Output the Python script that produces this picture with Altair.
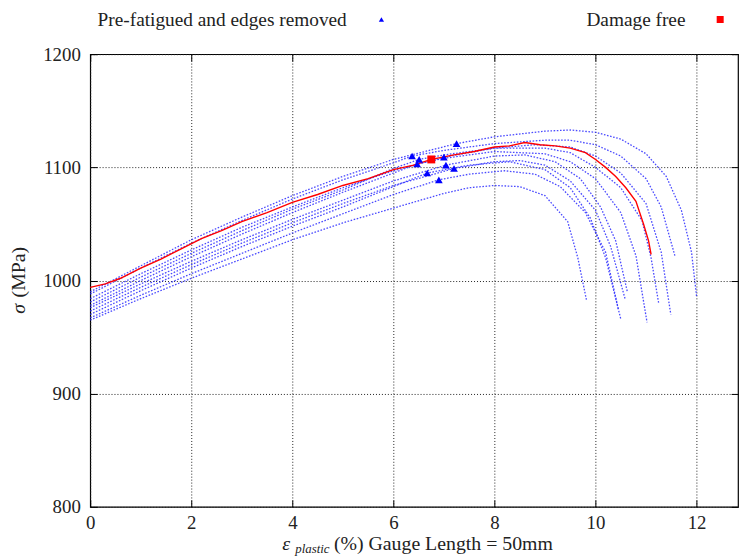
import altair as alt
import pandas as pd

# ---------------- data ----------------
x_ticks = [0, 2, 4, 6, 8, 10, 12]
y_ticks = [800, 900, 1000, 1100, 1200]

legend_labels = ["Pre-fatigued and edges removed", "Damage free"]
x_title_parts = ["ε", "plastic", "(%) Gauge Length = 50mm"]
y_title_parts = ["σ", "(MPa)"]

# Damage free specimen (red solid)
red_e = [0, 0.3, 0.6, 1.0, 1.4, 1.8, 2.2, 2.6, 3.0, 3.5, 4.0, 4.5, 5.0, 5.5, 6.0, 6.4,
         6.75, 7.2, 7.6, 8.0, 8.3, 8.6, 8.9, 9.2, 9.5, 9.8, 10.0, 10.2, 10.4, 10.6,
         10.8, 10.95, 11.05, 11.1]
red_s = [994, 997, 1002, 1011, 1019, 1028, 1037, 1044, 1052, 1060, 1069, 1076, 1084,
         1090, 1098, 1102, 1107, 1111, 1114, 1118, 1119, 1122, 1120, 1119, 1117, 1113,
         1107, 1100, 1092, 1082, 1070, 1050, 1035, 1023]
red_mark_e = [6.75]
red_mark_s = [1107]

# Pre-fatigued specimens (blue dotted)
b1_e = [0, 1, 2, 3, 4, 5, 6, 7.25, 8, 9, 9.5, 10, 10.5, 11, 11.4, 11.7, 11.9, 12.0]
b1_s = [990, 1013, 1036, 1056, 1075, 1092, 1107, 1121, 1127, 1132, 1133, 1131, 1125, 1112, 1092, 1062, 1025, 986]
b2_e = [0, 1, 2, 3, 4, 5, 6, 6.37, 7, 8, 9, 9.5, 10, 10.5, 11, 11.3, 11.57]
b2_s = [988, 1011, 1033, 1053, 1072, 1089, 1104, 1110, 1115, 1121, 1124, 1124, 1120, 1110, 1090, 1065, 1022]
b3_e = [0, 1, 2, 3, 4, 5, 6, 7, 8, 8.8, 9.5, 10, 10.5, 11, 11.3, 11.49]
b3_s = [984, 1006, 1027, 1047, 1065, 1082, 1097, 1109, 1117, 1120, 1118, 1110, 1095, 1068, 1025, 970]
b4_e = [0, 1, 2, 3, 4, 5, 6, 6.51, 7, 8, 9, 9.5, 10, 10.5, 10.92, 11.1, 11.25]
b4_s = [981, 1003, 1024, 1044, 1063, 1080, 1099, 1107, 1111, 1117, 1117, 1113, 1100, 1082, 1053, 1020, 980]
b5_e = [0, 1, 2, 3, 4, 5, 6, 6.47, 7, 8, 9, 9.5, 10, 10.5, 10.8, 11.02]
b5_s = [978, 1000, 1021, 1041, 1060, 1078, 1095, 1103, 1108, 1114, 1112, 1105, 1090, 1060, 1022, 963]
b6_e = [0, 1, 2, 3, 4, 5, 6, 7.04, 8, 8.6, 9.2, 9.7, 10.1, 10.4, 10.63]
b6_s = [976, 997, 1017, 1036, 1054, 1071, 1088, 1102, 1110, 1111, 1105, 1090, 1065, 1035, 990]
b7_e = [0, 1, 2, 3, 4, 5, 6, 7.2, 8, 8.5, 9, 9.5, 10, 10.3, 10.59]
b7_s = [973, 994, 1014, 1033, 1051, 1068, 1084, 1099, 1105, 1106, 1102, 1088, 1062, 1030, 983]
b8_e = [0, 1, 2, 3, 4, 5, 6, 6.67, 7.5, 8.3, 9, 9.5, 9.9, 10.2, 10.5]
b8_s = [970, 991, 1011, 1030, 1048, 1065, 1083, 1095, 1102, 1105, 1098, 1082, 1055, 1020, 966]
b9_e = [0, 1, 2, 3, 4, 5, 6, 6.9, 7.5, 8.2, 8.8, 9.3, 9.8, 10.2, 10.45]
b9_s = [967, 987, 1006, 1024, 1042, 1059, 1076, 1089, 1094, 1097, 1094, 1083, 1060, 1025, 975]
b10_e = [0, 1, 2, 3, 4, 5, 6, 7, 7.5, 8, 8.5, 9, 9.45, 9.65, 9.82]
b10_s = [965, 984, 1002, 1019, 1036, 1051, 1064, 1077, 1082, 1084, 1083, 1075, 1052, 1020, 983]

tri_e = [7.25, 6.37, 7.0, 6.51, 6.47, 7.04, 7.2, 6.67, 6.9]
tri_s = [1121, 1110, 1109, 1107, 1103, 1102, 1099, 1095, 1089]

# ---------------- tables ----------------
blue = [(b1_e, b1_s), (b2_e, b2_s), (b3_e, b3_s), (b4_e, b4_s), (b5_e, b5_s),
        (b6_e, b6_s), (b7_e, b7_s), (b8_e, b8_s), (b9_e, b9_s), (b10_e, b10_s)]
rows = []
for k, (es, ss) in enumerate(blue):
    for i, (e, s) in enumerate(zip(es, ss)):
        rows.append({"curve": f"b{k+1}", "i": i, "e": e, "s": s})
blue_df = pd.DataFrame(rows)
red_df = pd.DataFrame({"i": list(range(len(red_e))), "e": red_e, "s": red_s})
tri_df = pd.DataFrame({"e": tri_e, "s": tri_s})
sq_df = pd.DataFrame({"e": red_mark_e, "s": red_mark_s})

xs = alt.Scale(domain=[0, 12.82], nice=False, zero=False)
ys = alt.Scale(domain=[800, 1200], nice=False, zero=False)

SERIF = "Liberation Serif, Times New Roman, serif"
GRID = dict(grid=True, gridDash=[1, 2], gridColor="#222", gridWidth=1)

x_main = alt.Axis(values=x_ticks, ticks=False, domain=False, title=None, labelFlush=False,
                  format="d", labelFont=SERIF, labelFontSize=19, labelColor="#222",
                  labelPadding=7, **GRID)
y_main = alt.Axis(values=y_ticks, ticks=False, domain=False, title=None, format="d",
                  labelFont=SERIF, labelFontSize=19, labelColor="#222", labelPadding=10,
                  **GRID)


def inner(orient, vals):
    return alt.Axis(values=vals, orient=orient, offset=-7, tickSize=7, tickColor="black",
                    labels=False, grid=False, domain=False, title=None)


blue_lines = alt.Chart(blue_df).mark_line(
    color="#2a2aff", strokeDash=[1.6, 1.6], strokeWidth=1.3, opacity=0.85
).encode(
    x=alt.X("e:Q", scale=xs, axis=x_main),
    y=alt.Y("s:Q", scale=ys, axis=y_main),
    detail="curve:N",
    order="i:Q",
)

red_line = alt.Chart(red_df).mark_line(color="#ff0000", strokeWidth=1.4).encode(
    x=alt.X("e:Q", scale=xs, axis=inner("bottom", x_ticks)),
    y=alt.Y("s:Q", scale=ys, axis=inner("left", y_ticks)),
    order="i:Q",
)

tri = alt.Chart(tri_df).mark_point(shape="triangle-up", filled=True, color="#0000ff",
                                   size=60, opacity=1).encode(
    x=alt.X("e:Q", scale=xs, axis=inner("top", x_ticks)),
    y=alt.Y("s:Q", scale=ys, axis=inner("right", y_ticks)),
)

sq = alt.Chart(sq_df).mark_point(shape="square", filled=True, color="#ff0000",
                                 size=64, opacity=1).encode(
    x=alt.X("e:Q", scale=xs, axis=None),
    y=alt.Y("s:Q", scale=ys, axis=None),
)


def label(txt, x, y, size=20, align="left", style="normal", angle=0, baseline="alphabetic"):
    return alt.Chart(pd.DataFrame({"t": [txt]})).mark_text(
        font=SERIF, fontSize=size, align=align, baseline=baseline, fontStyle=style,
        angle=angle, color="#222"
    ).encode(text="t:N", x=alt.value(x), y=alt.value(y))


leg1 = label(legend_labels[0], 259, -34, size=19.5, align="right", baseline="middle")
leg2 = label(legend_labels[1], 601, -34, size=19.5, align="right", baseline="middle")
leg_tri = alt.Chart(pd.DataFrame({"k": [0]})).mark_point(
    shape="triangle-up", filled=True, color="#0000ff", size=28, opacity=1
).encode(x=alt.value(294), y=alt.value(-35))
leg_sq = alt.Chart(pd.DataFrame({"k": [0]})).mark_point(
    shape="square", filled=True, color="#ff0000", size=50, opacity=1
).encode(x=alt.value(636), y=alt.value(-35))

xt1 = label(x_title_parts[0], 194, 501, style="italic")
xt2 = label(x_title_parts[1], 207, 504, size=13, style="italic")
xt3 = label(x_title_parts[2], 246, 501)

yt1 = label(y_title_parts[0], -72, 257, style="italic", angle=270, align="center", baseline="middle")
yt2 = label(y_title_parts[1], -72, 220, angle=270, align="center", baseline="middle")

chart = alt.layer(
    blue_lines, red_line, tri, sq, leg1, leg2, leg_tri, leg_sq, xt1, xt2, xt3, yt1, yt2
).resolve_axis(x="independent", y="independent").properties(
    width=654, height=457,
    autosize=alt.AutoSizeParams(type="none"),
    padding={"left": 83, "top": 44, "right": 1, "bottom": 50},
).configure_view(stroke="black", strokeWidth=1.2)

chart.save("out.html", embed_options={"renderer": "svg", "actions": False})
